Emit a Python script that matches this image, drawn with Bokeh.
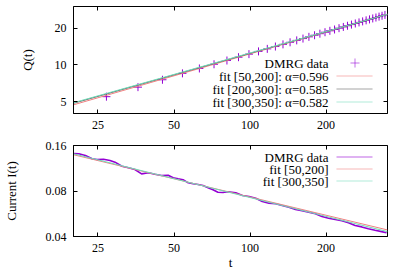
from bokeh.plotting import figure
from bokeh.models import LogAxis, FixedTicker, NumeralTickFormatter, Label, BoxAnnotation
from bokeh.layouts import column
from bokeh.embed import file_html
from bokeh.resources import INLINE

# ---------------- data ----------------
x_ticks = [25, 50, 100, 200]
q_ticks = [5, 10, 20]
i_ticks = [0.04, 0.08, 0.16]

t_q = [27, 36, 45, 54, 63, 72, 81, 90, 99, 108, 117, 126, 135, 144, 153, 162, 171, 180,
       189, 198, 207, 216, 225, 234, 243, 252, 261, 270, 279, 288, 297, 306, 315, 324, 333, 342]
q_dmrg = [5.49, 6.57, 7.55, 8.52, 9.34, 10.11, 10.85, 11.55, 12.23, 12.88, 13.51, 14.12,
          14.71, 15.29, 15.85, 16.40, 16.94, 17.46, 17.98, 18.48, 18.98, 19.46, 19.95, 20.42,
          20.88, 21.34, 21.79, 22.23, 22.67, 23.11, 23.53, 23.96, 24.37, 24.79, 25.20, 25.60]

fit_t = [20, 350]
q_fit_50_200 = [4.71, 25.95]
q_fit_200_300 = [4.85, 25.86]
q_fit_300_350 = [4.90, 25.93]

t_i = [20.0, 21.0, 22.3, 23.7, 24.8, 26.3, 27.9, 29.2, 31.1, 33.0, 35.0, 37.2, 39.6, 42.0,
       44.6, 47.4, 49.6, 51.9, 54.3, 56.9, 59.5, 62.3, 65.1, 68.2, 71.3, 74.6, 78.1, 81.7,
       87.8, 93.3, 99.1, 105.3, 111.8, 118.8, 126.2, 134.0, 142.4, 151.3, 160.6, 170.7,
       181.4, 192.5, 204.6, 217.4, 230.8, 245.2, 260.5, 276.7, 293.9, 312.4, 331.6, 347.0]
i_dmrg = [0.1416, 0.1410, 0.1374, 0.1307, 0.1293, 0.1299, 0.1273, 0.1241, 0.1167, 0.1139,
          0.1110, 0.1039, 0.1056, 0.1033, 0.1013, 0.1018, 0.0978, 0.0963, 0.0949, 0.0906,
          0.0893, 0.0883, 0.0870, 0.0840, 0.0815, 0.0785, 0.0782, 0.0790, 0.0778, 0.0747,
          0.0736, 0.0717, 0.0682, 0.0664, 0.0658, 0.0641, 0.0625, 0.0604, 0.0592, 0.0579,
          0.0565, 0.0542, 0.0528, 0.0518, 0.0508, 0.0493, 0.0473, 0.0463, 0.0450, 0.0440,
          0.0431, 0.0423]
i_fit_50_200 = [0.139, 0.0442]
i_fit_300_350 = [0.141, 0.0431]

q_labels = ["DMRG data", "fit [50,200]: \u03b1=0.596", "fit [200,300]: \u03b1=0.585",
            "fit [300,350]: \u03b1=0.582"]
i_labels = ["DMRG data", "fit [50,200]", "fit [300,350]"]

# ---------------- style ----------------
FONT = "Liberation Serif"
PURPLE = "#9400d3"
SALMON = "#f08080"
GRAY = "#606060"
TEAL = "#70dbb8"


def style_axis(ax, ticks, fmt, show_labels=True):
    ax.ticker = FixedTicker(ticks=ticks, minor_ticks=[])
    ax.formatter = NumeralTickFormatter(format=fmt)
    ax.major_tick_in = 4
    ax.major_tick_out = 0
    ax.minor_tick_in = 0
    ax.minor_tick_out = 0
    ax.major_tick_line_color = "black"
    ax.axis_line_color = "black"
    ax.major_label_text_font = FONT
    ax.major_label_text_color = "black"
    ax.axis_label_text_font = FONT
    ax.axis_label_text_font_style = "normal"
    ax.axis_label_text_font_size = "13px"
    ax.axis_label_text_color = "black"
    if show_labels:
        ax.major_label_text_font_size = "12px"
        ax.major_label_standoff = 7
    else:
        ax.major_label_text_font_size = "1px"
        ax.major_label_text_color = None
        ax.major_label_standoff = 0
        ax.axis_line_color = None


def make_fig(y_range, height, border_top, border_bottom):
    p = figure(x_axis_type="log", y_axis_type="log", x_range=(20, 350), y_range=y_range,
               width=395, height=height, min_border_left=72, min_border_right=8,
               min_border_top=border_top, min_border_bottom=border_bottom,
               toolbar_location=None, output_backend="svg")
    p.xgrid.visible = False
    p.ygrid.visible = False
    p.outline_line_color = "black"
    p.outline_line_width = 1
    p.outline_line_alpha = 1
    return p


def add_mirror_axes(p, xt, yt, yfmt):
    top = LogAxis()
    style_axis(top, xt, "0", show_labels=False)
    p.add_layout(top, "above")
    right = LogAxis()
    style_axis(right, yt, yfmt, show_labels=False)
    p.add_layout(right, "right")


def seg(p, l, r, b, t, color, width):
    p.add_layout(BoxAnnotation(left=l, right=r, bottom=b, top=t, left_units="screen",
                               right_units="screen", bottom_units="screen", top_units="screen",
                               line_color=color, line_width=width, fill_alpha=0))


def add_key(p, styles, labels, x_glyph, x_text, y_bottom, row_h):
    # gnuplot-style key: right-aligned text, sample to its right
    n = len(labels)
    for k, (lab, st) in enumerate(zip(labels, styles)):
        yc = y_bottom + (n - k - 0.5) * row_h
        p.add_layout(Label(x=x_text, y=yc, x_units="screen", y_units="screen", text=lab,
                           text_align="right", text_baseline="middle", text_font=FONT,
                           text_font_size="13px", text_color="black"))
        kind, color, width = st
        if kind == "cross":
            xc = x_glyph + 18.5
            seg(p, xc - 4.5, xc + 4.5, yc, yc, color, width)
            seg(p, xc, xc, yc - 4.5, yc + 4.5, color, width)
        else:
            seg(p, x_glyph, x_glyph + 36, yc, yc, color, width)


# ---------------- top panel: Q(t) ----------------
p1 = make_fig((4, 30), 138, 6, 25)
style_axis(p1.xaxis[0], x_ticks, "0")
style_axis(p1.yaxis[0], q_ticks, "0")
p1.yaxis[0].axis_label = "Q(t)"
p1.yaxis[0].axis_label_standoff = 17
add_mirror_axes(p1, x_ticks, q_ticks, "0")

p1.scatter(t_q, q_dmrg, marker="cross", size=8, line_color=PURPLE, line_width=1)
p1.line(fit_t, q_fit_50_200, line_color=SALMON, line_width=1)
p1.line(fit_t, q_fit_200_300, line_color=GRAY, line_width=1)
p1.line(fit_t, q_fit_300_350, line_color=TEAL, line_width=1)
add_key(p1, [("cross", PURPLE, 1), ("line", SALMON, 1), ("line", GRAY, 1), ("line", TEAL, 1)],
        q_labels, 263, 255, 5, 13)

# ---------------- bottom panel: I(t) ----------------
p2 = make_fig((0.04, 0.16), 140, 7, 42)
style_axis(p2.xaxis[0], x_ticks, "0")
style_axis(p2.yaxis[0], i_ticks, "0.00")
p2.xaxis[0].axis_label = "t"
p2.xaxis[0].axis_label_standoff = 0
p2.yaxis[0].axis_label = "Current I(t)"
p2.yaxis[0].axis_label_standoff = 24
add_mirror_axes(p2, x_ticks, i_ticks, "0.00")

p2.line(t_i, i_dmrg, line_color=PURPLE, line_width=1.6)
p2.line(fit_t, i_fit_50_200, line_color=SALMON, line_width=1)
p2.line(fit_t, i_fit_300_350, line_color=TEAL, line_width=1)
add_key(p2, [("line", PURPLE, 2), ("line", SALMON, 1), ("line", TEAL, 1)],
        i_labels, 263, 255, 49.5, 12)

layout = column(p1, p2, spacing=0)
open("out.html", "w").write(file_html(layout, INLINE))
